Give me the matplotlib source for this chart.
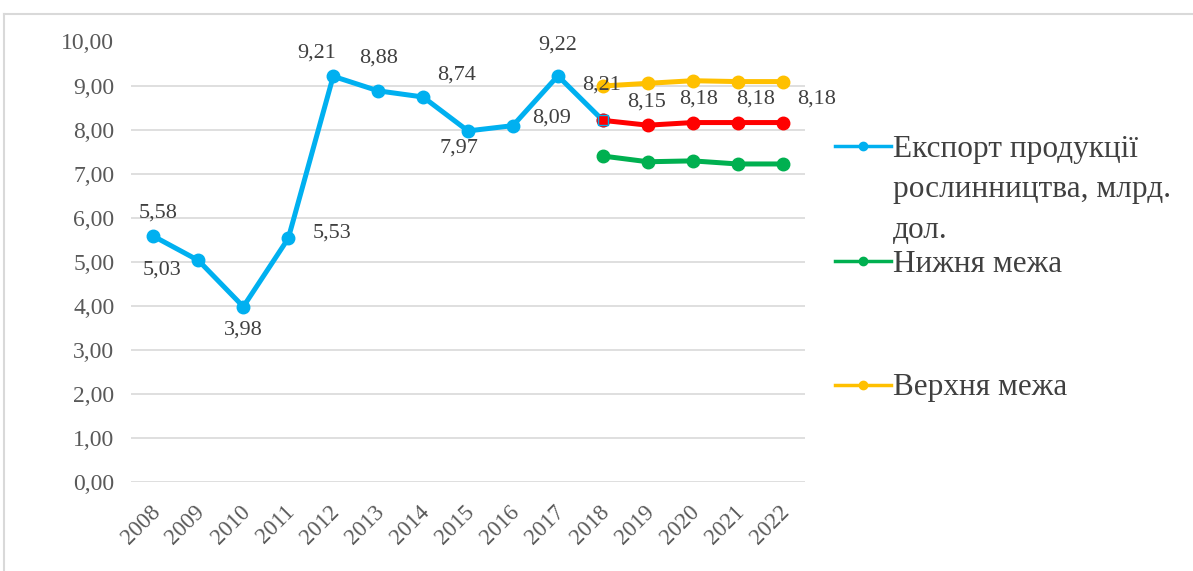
import matplotlib
matplotlib.use("Agg")
import matplotlib.pyplot as plt
import matplotlib.transforms as mtransforms
from matplotlib.lines import Line2D

plt.rcParams['font.family'] = ['Liberation Serif', 'DejaVu Serif']

# data
years = [str(y) for y in range(2008, 2023)]
export = [5.58, 5.03, 3.98, 5.53, 9.21, 8.88, 8.74, 7.97, 8.09, 9.22, 8.21]
forecast = [8.21, 8.10, 8.16, 8.16, 8.16]
lower = [7.40, 7.27, 7.29, 7.22, 7.22]
upper = [8.99, 9.05, 9.11, 9.09, 9.09]
export_labels = ['5,58', '5,03', '3,98', '5,53', '9,21', '8,88', '8,74', '7,97', '8,09', '9,22', '8,21']
forecast_labels = ['8,15', '8,18', '8,18', '8,18']
yticks = [0, 1, 2, 3, 4, 5, 6, 7, 8, 9, 10]

# label offsets in pixels (dx, dy)
export_off = [(5, 23), (-36, -10), (0, -23), (44, 5), (-17, 23), (0, 33),
              (33, 22), (-9, -17), (39, 8), (0, 31), (-1, 35)]
forecast_off = [(-1, 23), (6, 24), (18, 24), (34, 24)]

BLUE = '#00B0F0'
GREEN = '#00B050'
YELLOW = '#FFC000'
RED = '#FF0000'
TEXT = '#404040'

fig = plt.figure(figsize=(11.93, 5.71), dpi=100)
ax = fig.add_axes([131 / 1193, 1 - 482 / 571, 674 / 1193, 440.5 / 571])

x_exp = list(range(len(export)))
x_fc = list(range(len(export) - 1, len(years)))

lw = 3.6
ms = 9
ax.plot(x_fc, upper, color=YELLOW, lw=lw, marker='o', ms=ms, zorder=3)
ax.plot(x_fc, lower, color=GREEN, lw=lw, marker='o', ms=ms, zorder=3)
ax.plot(x_exp, export, color=BLUE, lw=lw, marker='o', ms=ms, zorder=4)
ax.plot(x_fc, forecast, color=RED, lw=lw, marker='o', ms=ms, zorder=5)
ax.plot(x_fc[:1], forecast[:1], color=RED, marker='s', ms=7, mec=BLUE, mew=1, zorder=6)

for xi, v, lab, (dx, dy) in zip(x_exp, export, export_labels, export_off):
    ax.annotate(lab, (xi, v), xytext=(dx, dy), textcoords='offset pixels',
                ha='center', va='center', fontsize=16, color=TEXT, zorder=7)
for xi, v, lab, (dx, dy) in zip(x_fc[1:], forecast[1:], forecast_labels, forecast_off):
    ax.annotate(lab, (xi, v), xytext=(dx, dy), textcoords='offset pixels',
                ha='center', va='center', fontsize=16, color=TEXT, zorder=7)

ax.set_xlim(-0.5, len(years) - 0.5)
ax.set_ylim(0, 10)
ax.set_yticks(yticks)
ax.set_yticklabels(['{:.2f}'.format(t).replace('.', ',') for t in yticks])
ax.set_xticks(range(len(years)))
ax.set_xticklabels(years, rotation=45, ha='right', va='top', rotation_mode='anchor')
ax.tick_params(axis='y', length=0, pad=12, labelsize=17, labelcolor='#595959')
ax.tick_params(axis='x', length=0, pad=14, labelsize=16.5, labelcolor='#595959')
shift = mtransforms.ScaledTranslation(-4 / 100, 0, fig.dpi_scale_trans)
for lab in ax.get_xticklabels():
    lab.set_transform(lab.get_transform() + shift)
ax.grid(axis='y', color='#D9D9D9', lw=1.2)
ax.set_axisbelow(True)
for s in ax.spines.values():
    s.set_visible(False)

# legend: three blocks placed like the original
none = Line2D([], [], color='none')
leg_kw = dict(loc='center left', frameon=False, fontsize=22.5, handlelength=1.8,
              handletextpad=0.05, borderpad=0, borderaxespad=0, labelspacing=0.36,
              labelcolor=TEXT)
h_blue = Line2D([], [], color=BLUE, lw=2.5, marker='o', ms=6)
h_green = Line2D([], [], color=GREEN, lw=2.5, marker='o', ms=6)
h_yellow = Line2D([], [], color=YELLOW, lw=2.5, marker='o', ms=6)
fig.legend([h_blue, none, none], ['Експорт продукції', 'рослинництва, млрд.', 'дол.'],
           bbox_to_anchor=(835 / 1193, 1 - 190 / 571), **leg_kw)
fig.legend([h_green], ['Нижня межа'], bbox_to_anchor=(835 / 1193, 1 - 264 / 571), **leg_kw)
fig.legend([h_yellow], ['Верхня межа'], bbox_to_anchor=(835 / 1193, 1 - 388 / 571), **leg_kw)

# outer chart border
fig.add_artist(Line2D([3.5 / 1193, 1.05], [1 - 13.5 / 571] * 2, color='#D9D9D9', lw=1.5))
fig.add_artist(Line2D([3.5 / 1193] * 2, [-0.05, 1 - 13.5 / 571], color='#D9D9D9', lw=1.5))

fig.savefig('out.png', dpi=100)
